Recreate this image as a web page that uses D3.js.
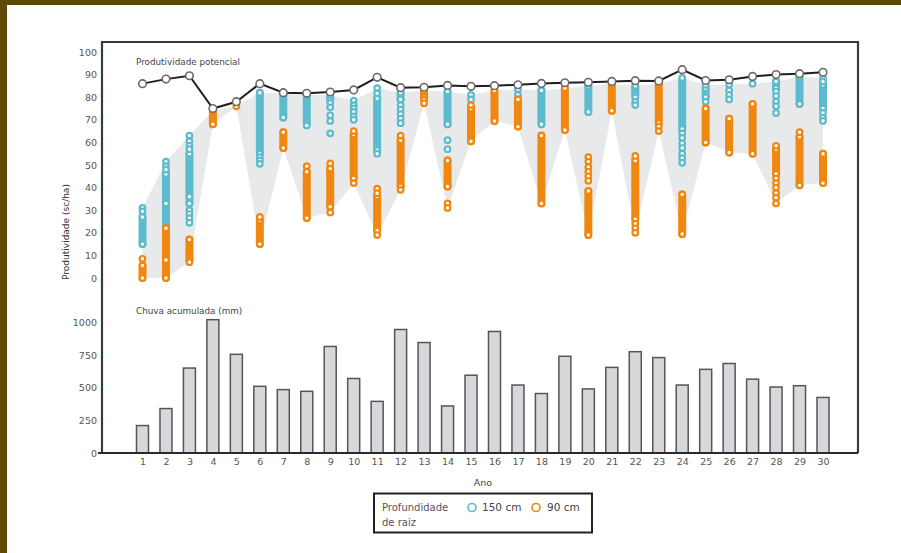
<!DOCTYPE html>
<html>
<head>
<meta charset="utf-8">
<script src="https://cdn.jsdelivr.net/npm/d3@7/dist/d3.min.js"></script>
<style>
html,body{margin:0;padding:0;background:#fff;}
svg{display:block;}
text{font-family:"DejaVu Sans",Verdana,sans-serif;}
</style>
</head>
<body>
<svg id="chart" width="901" height="553"></svg>
<script>
const years = [1,2,3,4,5,6,7,8,9,10,11,12,13,14,15,16,17,18,19,20,21,22,23,24,25,26,27,28,29,30];
const yieldTicks = [0,10,20,30,40,50,60,70,80,90,100];
const rainTicks = [0,250,500,750,1000];

const potential = [86,88,89.5,75,78,86,82,81.7,82.3,83.2,88.8,84.2,84.4,85.2,84.8,85.1,85.5,86.1,86.4,86.6,87,87.3,87.2,92.2,87.4,87.7,89.2,90,90.4,91];
const rain = [210,340,650,1020,755,510,485,472,815,570,395,945,845,360,595,930,520,455,740,490,655,775,730,520,640,685,565,505,515,425];

// 150 cm root depth: dense simulation range (low/high) and scattered simulations
const blueLow  = [15,21,33,null,null,55,71,68.5,79,null,56.5,79,null,68,null,null,null,68,null,73.5,null,81,null,66,80,null,null,84,77,75];
const blueHigh = [27,46,55,null,null,82,81.5,81,81,null,79.5,82,null,82.5,null,null,null,83,null,85,null,85,null,87.5,84,null,null,87,89,85.5];
const blueExtra = [[31,29.5],[51.5,49.5,48,33],[63,60.5,58.5,57,36,30,28.3,26.5,24.5],[],[],[53.5,52,50.5],[],[67.5],[77.5,75.5,72,69.5,64],[78.5,76.5,75,73.5,71.5,70],
  [84,81.7,55],[76.5,74.5,72.5,70.5,68.5],[],[61,57],[81,79],[],[83.5,81],[],[],[],
  [],[80,78,76.5],[],[88.5,64,62,59.5,57.5,55,53,51],[85.5,78],[85.5,83,81,79],[86],[82.5,80.5,78,76,73],[],[88.5,87,73,71,69.5]];

// 90 cm root depth
const orangeLow  = [0,0,8,68,null,15,57.5,26.5,31.5,44,21,40.5,80,40.5,60.5,69.5,67,33,65.5,19,74,26,68.5,19.5,60,55.5,55,46,41,42];
const orangeHigh = [5.5,22,17,74,null,25.5,64.5,47,48.5,63.5,36,61,83,52,75,83,79,63,84,38.5,86,52,86,37,75,70.5,77,57,62.5,55];
const orangeExtra = [[8.5],[8],[7],[],[76],[27],[],[49.5],[50.7,29],[65,42],
  [39.5,37.5,19],[63,39],[78.8,77.3],[33,31],[76.5],[],[],[],[],[53.5,51.5,49,47,45,43],
  [],[54,24,22,20],[67,65],[],[],[],[],[58.5,44,42,40,37.5,35.5,33],[64.5],[]];

const BLUE = "#5cbbcc", ORANGE = "#f0870e", GRAYAREA = "#e8e9eb";

const svg = d3.select("#chart");

// outer olive border
svg.append("rect").attr("x",0).attr("y",0).attr("width",901).attr("height",5).attr("fill","#5e4a05");
svg.append("rect").attr("x",0).attr("y",0).attr("width",7).attr("height",553).attr("fill","#5e4a05");

const x = d3.scaleLinear().domain([1,30]).range([142.5,823]);
const yTop = d3.scaleLinear().domain([0,100]).range([278,52]);
const yBot = d3.scaleLinear().domain([0,1000]).range([453,322.3]);

// gray envelope
const env = years.map((yr,i)=>{
  const vals = [].concat(blueExtra[i], orangeExtra[i]);
  [blueLow[i],blueHigh[i],orangeLow[i],orangeHigh[i]].forEach(v=>{ if(v!==null) vals.push(v); });
  return {yr, lo:d3.min(vals), hi:d3.max(vals)};
});
svg.append("path").datum(env)
  .attr("d", d3.area().x(d=>x(d.yr)).y0(d=>yTop(d.lo)).y1(d=>yTop(d.hi)))
  .attr("fill", GRAYAREA);

function drawSeries(low, high, extra, color){
  const g = svg.append("g");
  years.forEach((yr,i)=>{
    if(low[i]!==null){
      g.append("line").attr("x1",x(yr)).attr("x2",x(yr))
        .attr("y1",yTop(low[i])).attr("y2",yTop(high[i]))
        .attr("stroke",color).attr("stroke-width",8).attr("stroke-linecap","round");
      [low[i],high[i]].forEach(v=>{
        g.append("circle").attr("cx",x(yr)).attr("cy",yTop(v)).attr("r",2.8)
          .attr("fill","#fff").attr("stroke",color).attr("stroke-width",2.2);
      });
    }
    extra[i].forEach(v=>{
      g.append("circle").attr("cx",x(yr)).attr("cy",yTop(v)).attr("r",2.8)
        .attr("fill","#fff").attr("stroke",color).attr("stroke-width",2.2);
    });
  });
}
drawSeries(blueLow, blueHigh, blueExtra, BLUE);
drawSeries(orangeLow, orangeHigh, orangeExtra, ORANGE);

// potential line
svg.append("path").datum(potential)
  .attr("d", d3.line().x((d,i)=>x(years[i])).y(d=>yTop(d)))
  .attr("fill","none").attr("stroke","#1e1e1e").attr("stroke-width",2);
svg.append("g").selectAll("circle").data(potential).join("circle")
  .attr("cx",(d,i)=>x(years[i])).attr("cy",d=>yTop(d)).attr("r",3.8)
  .attr("fill","#fff").attr("stroke","#6a6a6a").attr("stroke-width",1.6);

// rain bars
svg.append("g").selectAll("rect").data(rain).join("rect")
  .attr("x",(d,i)=>x(years[i])-6).attr("width",12)
  .attr("y",d=>yBot(d)).attr("height",d=>yBot(0)-yBot(d))
  .attr("fill","#d8d8dc").attr("stroke","#555").attr("stroke-width",1.5);

// axes tick labels
const axTop = svg.append("g").attr("transform","translate(97,0)")
  .call(d3.axisLeft(yTop).tickValues(yieldTicks).tickFormat(d3.format("d")).tickSize(0).tickPadding(0));
axTop.select(".domain").remove();
axTop.selectAll("text").attr("font-family","DejaVu Sans").attr("font-size",9.5).attr("fill","#555");

const axBot = svg.append("g").attr("transform","translate(97,0)")
  .call(d3.axisLeft(yBot).tickValues(rainTicks).tickFormat(d3.format("d")).tickSize(0).tickPadding(0));
axBot.select(".domain").remove();
axBot.selectAll("text").attr("font-family","DejaVu Sans").attr("font-size",9.5).attr("fill","#555");

const axX = svg.append("g").attr("transform","translate(0,458)")
  .call(d3.axisBottom(x).tickValues(years).tickFormat(d3.format("d")).tickSize(0).tickPadding(0));
axX.select(".domain").remove();
axX.selectAll("text").attr("font-family","DejaVu Sans").attr("font-size",9.5).attr("fill","#555");

// frame
svg.append("path").attr("d","M102,453 L102,42 L858,42 L858,453")
  .attr("fill","none").attr("stroke","#3c3c3c").attr("stroke-width",2.2);
svg.append("line").attr("x1",98).attr("x2",858).attr("y1",453).attr("y2",453)
  .attr("stroke","#2a2a2a").attr("stroke-width",2);

// titles
svg.append("text").attr("x",136).attr("y",65).attr("font-size",8.8).attr("fill","#444").text("Produtividade potencial");
svg.append("text").attr("x",136).attr("y",314).attr("font-size",8.8).attr("fill","#444").text("Chuva acumulada (mm)");
svg.append("text").attr("transform","translate(69,232) rotate(-90)").attr("text-anchor","middle")
  .attr("font-size",9).attr("fill","#333").text("Produtividade (sc/ha)");
svg.append("text").attr("x",483).attr("y",486).attr("text-anchor","middle").attr("font-size",9.5).attr("fill","#444").text("Ano");

// legend
const lg = svg.append("g");
lg.append("rect").attr("x",374).attr("y",493.5).attr("width",218).attr("height",39)
  .attr("fill","#fff").attr("stroke","#222").attr("stroke-width",2);
lg.append("text").attr("x",382).attr("y",511).attr("font-size",10).attr("fill","#555").text("Profundidade");
lg.append("text").attr("x",382).attr("y",526).attr("font-size",10).attr("fill","#555").text("de raiz");
lg.append("circle").attr("cx",472).attr("cy",507.5).attr("r",4).attr("fill","none").attr("stroke",BLUE).attr("stroke-width",1.6);
lg.append("text").attr("x",482).attr("y",511).attr("font-size",10.5).attr("fill","#444").text("150 cm");
lg.append("circle").attr("cx",536).attr("cy",507.5).attr("r",4).attr("fill","none").attr("stroke",ORANGE).attr("stroke-width",1.6);
lg.append("text").attr("x",547).attr("y",511).attr("font-size",10.5).attr("fill","#444").text("90 cm");
</script>
</body>
</html>
